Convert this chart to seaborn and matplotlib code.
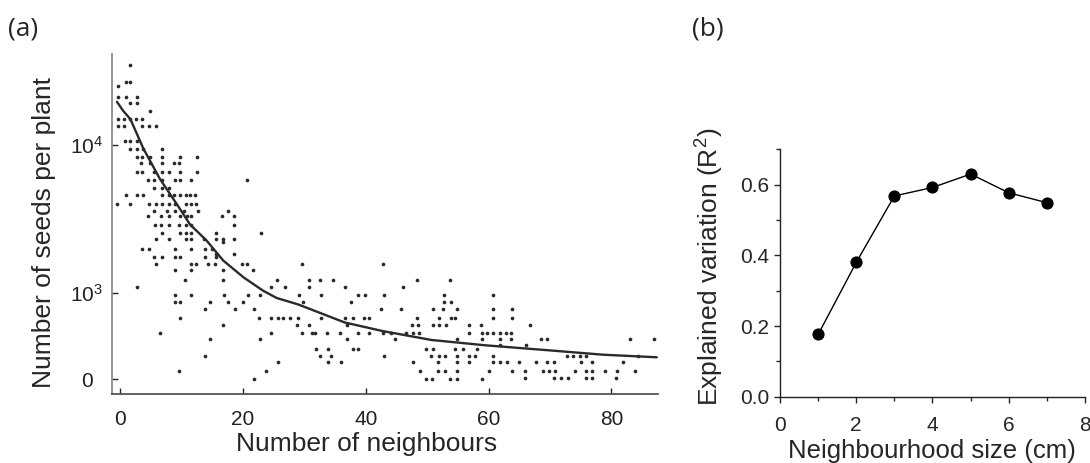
# Seed output vs neighbour density (a) and R^2 vs neighbourhood size (b)

import matplotlib
matplotlib.use('Agg')
import pandas as pd
import matplotlib.pyplot as plt
import matplotlib.transforms as mtransforms
import seaborn as sns
from matplotlib.ticker import MultipleLocator, NullLocator

# --- Panel (a): seeds per plant, one row of dots per seed level ---
seed_levels = [34400, 26400, 24700, 21000, 19100, 16900, 14800, 13400, 10600, 9400,
               8200, 7500, 6500, 5800, 5100, 4600, 4000, 3600, 3300, 2900,
               2560, 2300, 2200, 1980, 1840, 1750, 1570, 1435, 1230, 1100,
               980, 900, 815, 710, 635, 540, 465, 400, 350, 270,
               200, 100, 15, 0]

neighbour_rows = [
    [1.7],
    [0.9, 1.7],
    [-0.3],
    [-0.3, 1.0, 2.7],
    [1.7, 2.8],
    [4.8],
    [-0.4, 0.7, 1.7, 2.6, 3.5],
    [-0.4, 0.7, 3.5, 4.7, 5.8],
    [0.8, 1.7, 2.7],
    [1.7, 2.7, 3.8, 6.8],
    [2.7, 3.5, 4.8, 6.8, 9.7, 12.5],
    [3.4, 4.8, 6.8, 8.8, 9.6],
    [2.7, 3.5, 5.5, 6.8, 7.9, 9.7, 12.6],
    [4.5, 5.5, 6.8, 9.0, 9.7, 11.6, 20.7],
    [5.5, 6.8, 7.9],
    [0.9, 2.7, 3.7, 6.8, 7.9, 8.8, 9.7, 10.7, 11.4, 12.2],
    [-0.5, 1.7, 4.7, 5.8, 6.8, 7.9, 8.9, 10.7, 11.6, 12.4],
    [5.5, 7.6, 8.9, 10.4, 12.7, 17.5],
    [4.5, 6.7, 7.9, 9.7, 10.9, 11.6, 16.6, 18.6],
    [5.7, 6.7, 8.0, 9.6, 10.7, 11.6, 18.6],
    [6.8, 9.7, 10.7, 11.6, 15.6, 22.9],
    [5.8, 7.9, 10.7, 11.6, 13.6, 15.6, 16.7, 18.6],
    [16.7],
    [3.5, 4.7, 9.0, 11.6, 13.8, 14.9],
    [15.6, 18.6],
    [5.6, 6.8, 9.0, 9.7, 13.8, 15.7],
    [5.8, 11.5, 12.4, 14.4, 15.5, 19.8, 20.6, 29.6, 42.8],
    [9.0, 11.5, 16.7, 21.7],
    [10.6, 16.7, 25.6, 30.8, 32.6, 34.7, 48.4, 53.8],
    [2.8, 24.6, 26.9, 30.8, 36.7, 46.0],
    [9.0, 11.5, 16.9, 20.8, 22.8, 29.1, 32.7, 38.8, 39.9, 42.9, 52.8, 60.8],
    [9.0, 9.7, 14.7, 17.5, 20.0, 29.8, 37.6, 52.8, 53.9],
    [13.8, 18.7, 21.8, 42.5, 45.8, 50.9, 52.6, 54.8, 60.8, 63.8],
    [9.7, 22.7, 24.6, 25.7, 26.6, 27.6, 29.0, 32.8, 36.7, 37.9, 39.8, 40.6,
     48.4, 52.0, 53.9, 54.6, 60.8, 63.8],
    [16.7, 28.8, 30.8, 36.9, 47.6, 48.5, 50.9, 51.9, 53.0, 56.9, 58.8, 66.8],
    [6.5, 24.6, 29.6, 31.2, 31.7, 33.7, 35.8, 38.8, 40.6, 42.8, 44.2, 46.5,
     47.7, 48.6, 56.8, 59.0, 59.8, 60.8, 61.8, 62.9, 63.7],
    [14.7, 22.8, 37.0, 44.7, 54.9, 58.9, 61.8, 63.7, 68.5, 69.5, 83.1, 86.9],
    [61.8, 66.1],
    [31.9, 33.9, 38.0, 38.8, 49.9, 51.0, 54.6, 55.8, 58.1],
    [13.8, 32.6, 34.4, 42.9, 50.7, 51.9, 52.9, 54.9, 56.9, 57.8, 60.8, 72.7,
     73.8, 74.9, 75.8, 84.3],
    [25.7, 33.9, 35.9, 47.7, 51.8, 54.8, 56.8, 60.8, 61.9, 63.0, 65.0, 67.7,
     69.5, 70.7, 75.0, 76.9, 81.9],
    [9.6, 23.7, 48.8, 51.8, 52.9, 54.8, 60.0, 63.8, 65.9, 68.9, 69.8, 70.8,
     74.0, 75.8, 76.9, 79.0, 81.0, 83.8],
    [65.9, 70.7, 71.8, 72.9, 75.8, 76.9, 80.8],
    [21.8, 49.9, 50.8, 53.8, 54.8, 58.9],
]

# fitted curve
curve_x = [-0.5, 0.5, 1.7, 3.8, 6.5, 9.2, 11.4, 14.1, 16.8, 20.1, 23.3, 25.5, 29.0,
           36.6, 42.8, 50.7, 59.5, 70.5, 78.6, 87.4]
curve_y = [19400, 16900, 14800, 9400, 5870, 4000, 2900, 2260, 1660, 1280, 1040, 945,
           870, 660, 560, 457, 395, 333, 286, 256]

# --- Panel (b) ---
hood_size = [1, 2, 3, 4, 5, 6, 7]
r_squared = [0.176, 0.38, 0.568, 0.592, 0.630, 0.577, 0.549]

rows = []
for level, xs in zip(seed_levels, neighbour_rows):
    for x in xs:
        rows.append({'neighbours': x, 'seeds': level})
seeds = pd.DataFrame(rows)

sns.set_theme(style='ticks')
plt.rcParams['font.family'] = ['Liberation Sans', 'DejaVu Sans']
plt.rcParams['mathtext.default'] = 'regular'

fig = plt.figure(figsize=(10.9, 4.63), dpi=100)
ax1 = fig.add_axes([0.1028, 0.149, 0.5009, 0.7344])
ax2 = fig.add_axes([0.7156, 0.1432, 0.2798, 0.5343])

# Panel (a)
ax1.set_yscale('symlog', linthresh=1000, linscale=0.521)
sns.scatterplot(data=seeds, x='neighbours', y='seeds', ax=ax1, s=7,
                color='#2a2a2a', linewidth=0)
sns.lineplot(x=curve_x, y=curve_y, ax=ax1, color='#2a2a2a', linewidth=1.7)
ax1.set_xlim(-1.3, 87.6)
ax1.set_ylim(-171, 40700)
ax1.set_xticks([0, 20, 40, 60, 80])
ax1.set_yticks([0, 1000, 10000])
ax1.set_yticklabels(['0', '10$^3$', '10$^4$'])
ax1.yaxis.set_minor_locator(NullLocator())
ax1.tick_params(direction='in', length=4, width=1, labelsize=15, colors='#222222')
ax1.tick_params(axis='x', pad=11.5)
ax1.tick_params(axis='y', pad=6.5)
# the plain "0" lines up with the "10" of the powers, not with their exponents
zero_lab = ax1.get_yticklabels()[0]
zero_lab.set_transform(zero_lab.get_transform()
                       + mtransforms.ScaledTranslation(-0.10, 0, fig.dpi_scale_trans))
for side in ['top', 'right']:
    ax1.spines[side].set_visible(False)
ax1.spines['left'].set_color('#8a8a8a')
ax1.spines['left'].set_linewidth(1.3)
ax1.spines['bottom'].set_color('#555555')
ax1.spines['bottom'].set_linewidth(1.3)
ax1.set_xlabel('Number of neighbours', fontsize=19)
ax1.set_ylabel('Number of seeds per plant', fontsize=19)
ax1.xaxis.set_label_coords(0.466, -0.112)
ax1.yaxis.set_label_coords(-0.103, 0.476)

# Panel (b)
sns.lineplot(x=hood_size, y=r_squared, ax=ax2, color='black', linewidth=1,
             marker='o', markersize=8, markeredgecolor='black',
             markerfacecolor='black')
ax2.set_xlim(0, 8)
ax2.set_ylim(0, 0.7)
ax2.xaxis.set_major_locator(MultipleLocator(2))
ax2.xaxis.set_minor_locator(MultipleLocator(1))
ax2.yaxis.set_major_locator(MultipleLocator(0.2))
ax2.yaxis.set_minor_locator(MultipleLocator(0.1))
ax2.yaxis.set_major_formatter('{x:.1f}')
ax2.tick_params(which='major', direction='out', length=4, width=1, labelsize=15)
ax2.tick_params(which='minor', direction='out', length=3, width=1)
ax2.tick_params(axis='x', which='major', pad=10)
for side in ['top', 'right']:
    ax2.spines[side].set_visible(False)
for side in ['left', 'bottom']:
    ax2.spines[side].set_color('#222222')
    ax2.spines[side].set_linewidth(1)
ax2.set_xlabel('Neighbourhood size (cm)', fontsize=18.5)
ax2.set_ylabel('Explained variation (R$^2$)', fontsize=19)
ax2.xaxis.set_label_coords(0.497, -0.171)
ax2.yaxis.set_label_coords(-0.177, 0.524)

fig.text(0.007, 0.965, '(a)', fontsize=19, family=['Open Sans', 'DejaVu Sans'], va='top')
fig.text(0.635, 0.965, '(b)', fontsize=19, family=['Open Sans', 'DejaVu Sans'], va='top')

fig.savefig('out.png', dpi=100)
